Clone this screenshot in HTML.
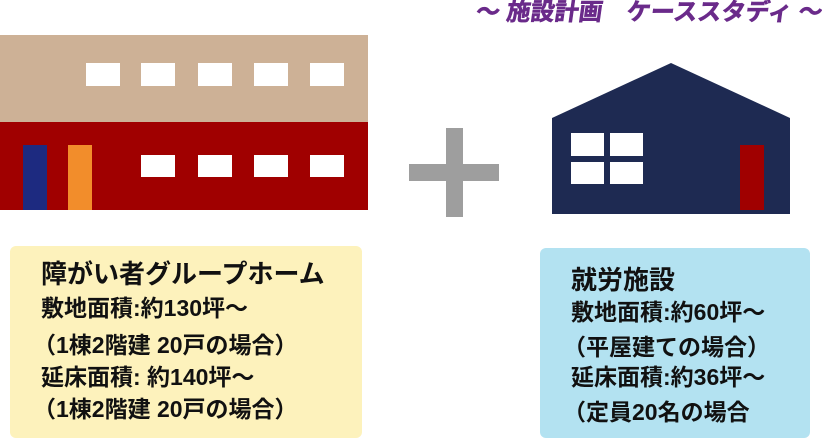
<!DOCTYPE html>
<html><head><meta charset="utf-8"><style>
body{margin:0;width:822px;height:441px;background:#fff;position:relative;overflow:hidden;font-family:"Liberation Sans","Noto Sans CJK JP",sans-serif}
.a{position:absolute}
.w{position:absolute;background:#fff}
.box{position:absolute;border-radius:6px}
.t{position:absolute;font-weight:bold;color:#111;white-space:nowrap;font-size:23px;line-height:26px}
</style></head><body>
<div class="a" style="left:476px;top:0px;font-size:24px;line-height:26px;font-weight:bold;color:#6a2a8a;white-space:nowrap;transform:skewX(-8deg);-webkit-text-stroke:0.6px #6a2a8a">～ 施設計画　ケーススタディ ～</div>
<div class="a" style="left:0;top:35px;width:368px;height:87px;background:#cdb196"></div>
<div class="a" style="left:0;top:122px;width:368px;height:88px;background:#a00000"></div>
<div class="w" style="left:86px;top:63px;width:34px;height:23px"></div>
<div class="w" style="left:141px;top:63px;width:34px;height:23px"></div>
<div class="w" style="left:198px;top:63px;width:34px;height:23px"></div>
<div class="w" style="left:254px;top:63px;width:34px;height:23px"></div>
<div class="w" style="left:310px;top:63px;width:34px;height:23px"></div>
<div class="w" style="left:141px;top:155px;width:34px;height:22px"></div>
<div class="w" style="left:198px;top:155px;width:34px;height:22px"></div>
<div class="w" style="left:254px;top:155px;width:34px;height:22px"></div>
<div class="w" style="left:310px;top:155px;width:34px;height:22px"></div>
<div class="a" style="left:23px;top:145px;width:24px;height:65px;background:#1d2a80"></div>
<div class="a" style="left:68px;top:145px;width:24px;height:65px;background:#f28d2b"></div>
<div class="a" style="left:446px;top:128px;width:17px;height:89px;background:#9e9e9e"></div>
<div class="a" style="left:409px;top:164px;width:90px;height:17px;background:#9e9e9e"></div>
<svg class="a" style="left:0;top:0" width="822" height="441"><polygon points="552,118 671,63 790,118 790,214 552,214" fill="#1e2a52"/></svg>
<div class="w" style="left:571px;top:133px;width:33px;height:23px"></div>
<div class="w" style="left:610px;top:133px;width:33px;height:23px"></div>
<div class="w" style="left:571px;top:162px;width:33px;height:22px"></div>
<div class="w" style="left:610px;top:162px;width:33px;height:22px"></div>
<div class="a" style="left:740px;top:145px;width:24px;height:65px;background:#a00000"></div>
<div class="box" style="left:10px;top:246px;width:352px;height:192px;background:#fdf2bc"></div>
<div class="box" style="left:540px;top:248px;width:270px;height:190px;background:#b3e2f1"></div>
<div class="t" style="left:41px;top:259px;font-size:26px;line-height:30px">障がい者グループホーム</div>
<div class="t" style="left:41px;top:295px">敷地面積:約130坪～</div>
<div class="t" style="left:33px;top:332px">（1棟2階建 20戸の場合）</div>
<div class="t" style="left:41px;top:364px">延床面積: 約140坪～</div>
<div class="t" style="left:33px;top:396px">（1棟2階建 20戸の場合）</div>
<div class="t" style="left:571px;top:265px;font-size:26px;line-height:30px">就労施設</div>
<div class="t" style="left:571px;top:299px">敷地面積:約60坪～</div>
<div class="t" style="left:563px;top:334px">（平屋建ての場合）</div>
<div class="t" style="left:571px;top:364px">延床面積:約36坪～</div>
<div class="t" style="left:563px;top:399px">（定員20名の場合</div>
</body></html>
